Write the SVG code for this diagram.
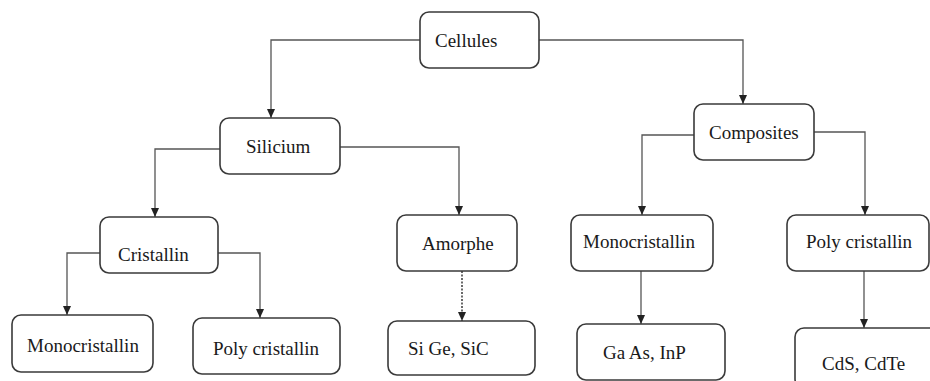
<svg xmlns="http://www.w3.org/2000/svg" width="930" height="381" viewBox="0 0 930 381">
<style>
.box{fill:#fff;stroke:#3a3a3a;stroke-width:1.6}
.lbl{font-family:"Liberation Serif","Times New Roman",serif;font-size:19px;fill:#1a1a1a}
.con{fill:none;stroke:#555;stroke-width:1.3}
.dash{fill:none;stroke:#444;stroke-width:1.6;stroke-dasharray:2 1.5}
</style>
<defs>
<marker id="arr" markerUnits="userSpaceOnUse" markerWidth="9" markerHeight="9" refX="4.5" refY="8" orient="auto-start-reverse" viewBox="0 0 9 9">
<path d="M0.5,0 L8.5,0 L4.5,8 Z" fill="#222" transform="rotate(-90 4.5 4.5)"/>
</marker>
<marker id="ah" markerUnits="userSpaceOnUse" markerWidth="8" markerHeight="9" refX="4" refY="9" orient="0" viewBox="0 0 8 9">
<path d="M0,0 L8,0 L4,9 Z" fill="#222"/>
</marker>
</defs>
<rect width="930" height="381" fill="#fff"/>
<g id="connectors">
<path class="con" d="M420,40 H271 V118" marker-end="url(#ah)"/>
<path class="con" d="M539,40 H743 V104" marker-end="url(#ah)"/>
<path class="con" d="M220,149 H155 V217" marker-end="url(#ah)"/>
<path class="con" d="M340,147 H459 V215" marker-end="url(#ah)"/>
<path class="con" d="M694,135 H642 V215" marker-end="url(#ah)"/>
<path class="con" d="M814,132 H865 V215" marker-end="url(#ah)"/>
<path class="con" d="M100,253 H67 V315" marker-end="url(#ah)"/>
<path class="con" d="M218,253 H260 V318" marker-end="url(#ah)"/>
<path class="dash" d="M462,271 V321" marker-end="url(#ah)"/>
<path class="con" d="M641,271 V324" marker-end="url(#ah)"/>
<path class="con" d="M864,271 V328" marker-end="url(#ah)"/>
</g>
<g id="cellules"><rect class="box" x="420" y="12" width="119" height="56" rx="9"/><text class="lbl" x="435" y="47">Cellules</text></g>
<g id="silicium"><rect class="box" x="220" y="118" width="120" height="56" rx="9"/><text class="lbl" x="246" y="153">Silicium</text></g>
<g id="composites"><rect class="box" x="694" y="104" width="120" height="56" rx="9"/><text class="lbl" x="709" y="139">Composites</text></g>
<g id="cristallin"><rect class="box" x="100" y="217" width="118" height="56" rx="9"/><text class="lbl" x="118" y="261">Cristallin</text></g>
<g id="monocristallin-si"><rect class="box" x="12" y="315" width="141" height="57" rx="9"/><text class="lbl" x="27" y="352">Monocristallin</text></g>
<g id="polycristallin-si"><rect class="box" x="193" y="318" width="147" height="56" rx="9"/><text class="lbl" x="213" y="355">Poly cristallin</text></g>
<g id="amorphe"><rect class="box" x="397" y="215" width="120" height="56" rx="9"/><text class="lbl" x="422" y="250">Amorphe</text></g>
<g id="sige-sic"><rect class="box" x="388" y="321" width="147" height="54" rx="9"/><text class="lbl" x="408" y="355">Si Ge, SiC</text></g>
<g id="monocristallin-comp"><rect class="box" x="571" y="215" width="142" height="56" rx="9"/><text class="lbl" x="583" y="248">Monocristallin</text></g>
<g id="polycristallin-comp"><rect class="box" x="787" y="215" width="142" height="56" rx="9"/><text class="lbl" x="806" y="248">Poly cristallin</text></g>
<g id="gaas-inp"><rect class="box" x="577" y="324" width="148" height="56" rx="9"/><text class="lbl" x="603" y="359">Ga As, InP</text></g>
<g id="cds-cdte"><rect class="box" x="795" y="328" width="150" height="60" rx="9"/><text class="lbl" x="822" y="370">CdS, CdTe</text></g>
</svg>
